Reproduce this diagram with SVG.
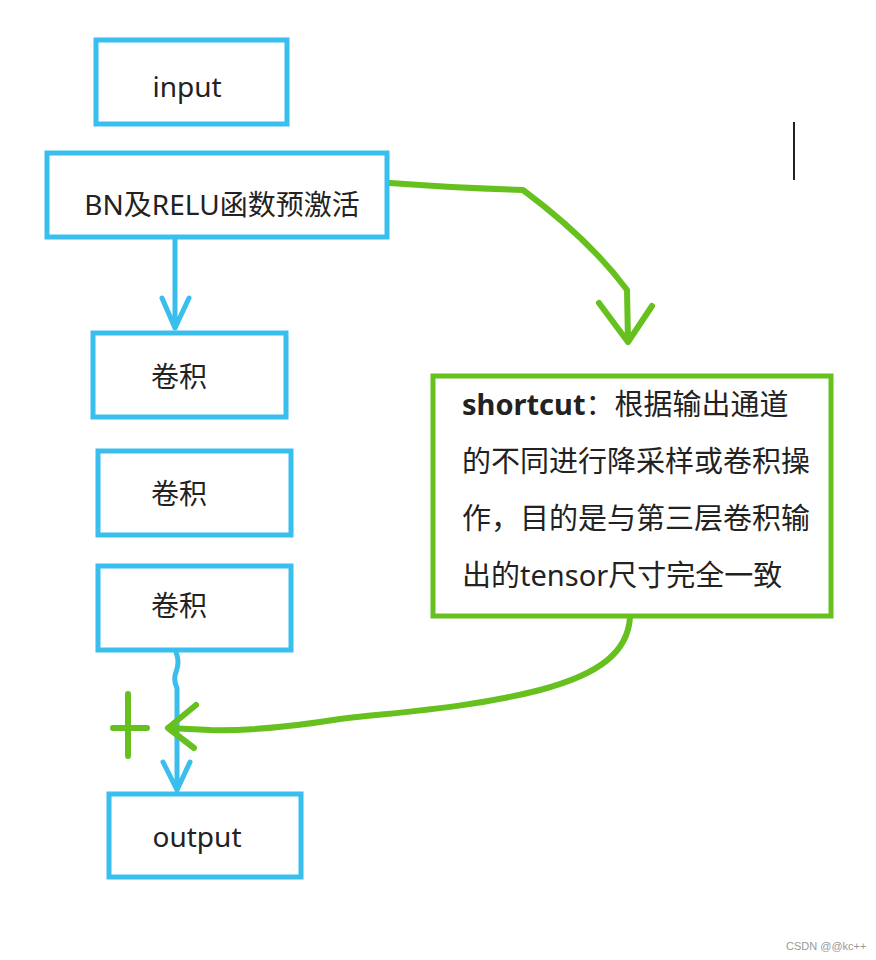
<svg xmlns="http://www.w3.org/2000/svg" width="876" height="960" viewBox="0 0 876 960">
<style>
.bbox{fill:#fff;stroke:#3ABEEE;stroke-width:5}
.gbox{fill:#fff;stroke:#66C01E;stroke-width:5}
.t{font-family:"Noto Sans","Noto Sans CJK SC",sans-serif;font-size:28px;fill:#222;text-anchor:middle;dominant-baseline:central}
.tl{font-family:"Noto Sans","Noto Sans CJK SC",sans-serif;font-size:29px;fill:#222}
.bl{fill:none;stroke:#3ABEEE;stroke-width:5;stroke-linecap:round;stroke-linejoin:round}
.gl{fill:none;stroke:#66C01E;stroke-width:6;stroke-linecap:round;stroke-linejoin:round}
</style>
<rect width="876" height="960" fill="#fff"/>
<g id="connectors">
<path class="bl" d="M175 238 V328 M162 298 L175 328 L189 298"/>
<path class="bl" d="M176 652 Q180 662 176 672 Q173 680 177 688 V790 M163 762 L177 790 L190 762"/>
<path class="gl" d="M390 183 Q460 188 523 190 Q590 240 627 290 L628 342 M599 303 L628 342 L652 306"/>
<path class="gl" d="M630 617 C628 652 600 674 540 690 C470 708 400 712 340 719 C290 727 250 731 210 730 L168 728 M196 705 L168 728 L194 748"/>
<path class="gl" d="M128 694 V756 M113 728 H147"/>
<line x1="794" y1="122" x2="794" y2="180" stroke="#222" stroke-width="2"/>
</g>
<g id="input"><rect class="bbox" x="96" y="40" width="191" height="84"/><text class="t" x="187" y="86">input</text></g>
<g id="bn"><rect class="bbox" x="47" y="153" width="340" height="84"/><text class="t" x="222" y="204" font-size="29">BN及RELU函数预激活</text></g>
<g id="conv1"><rect class="bbox" x="93" y="333" width="193" height="84"/><text class="t" x="179" y="376">卷积</text></g>
<g id="conv2"><rect class="bbox" x="98" y="451" width="193" height="84"/><text class="t" x="179" y="493">卷积</text></g>
<g id="conv3"><rect class="bbox" x="98" y="566" width="193" height="84"/><text class="t" x="179" y="605">卷积</text></g>
<g id="output"><rect class="bbox" x="109" y="794" width="192" height="83"/><text class="t" x="197" y="836">output</text></g>
<g id="shortcut"><rect class="gbox" x="433" y="376" width="398" height="240"/>
<text class="tl" x="462" y="415"><tspan font-weight="bold">shortcut</tspan>：根据输出通道</text>
<text class="tl" x="462" y="472">的不同进行降采样或卷积操</text>
<text class="tl" x="462" y="529">作，目的是与第三层卷积输</text>
<text class="tl" x="462" y="586">出的tensor尺寸完全一致</text>
</g>
<text x="786" y="950" font-family="Liberation Sans,sans-serif" font-size="11" fill="#999">CSDN @@kc++</text>
</svg>
